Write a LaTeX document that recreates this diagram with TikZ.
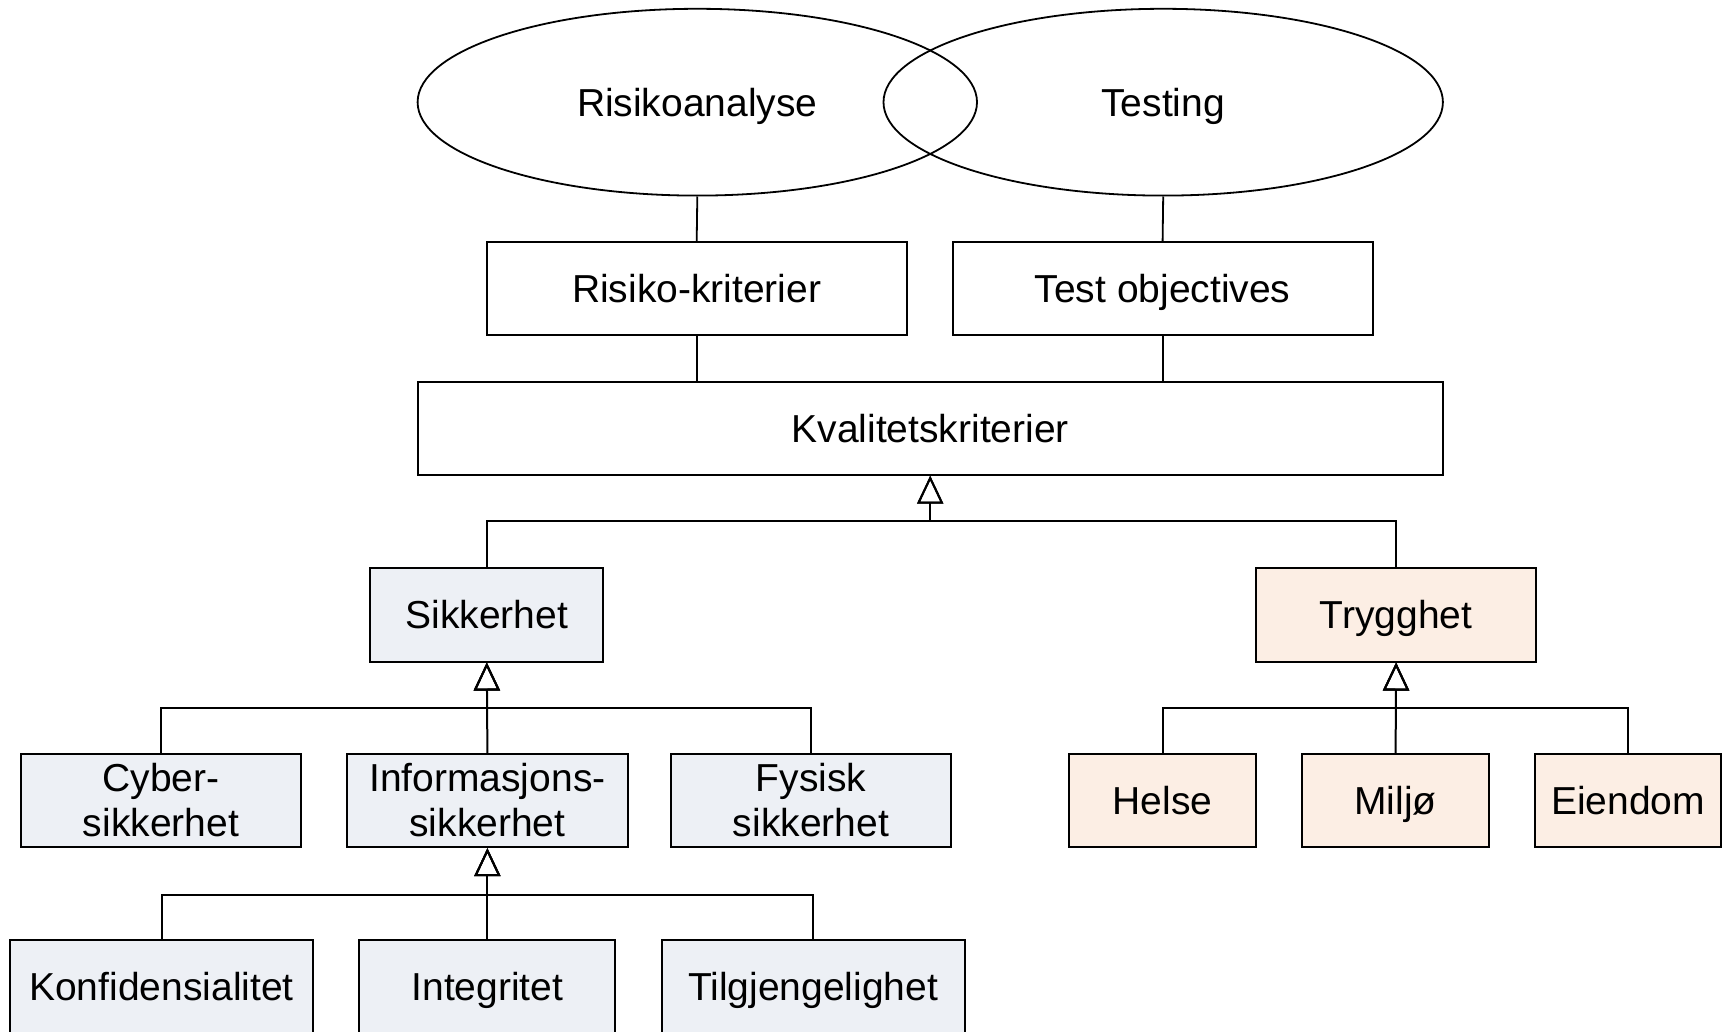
\documentclass[tikz,border=0pt]{standalone}
\usepackage{fontspec}
\setmainfont{Liberation Sans}
\usetikzlibrary{arrows.meta,shapes.geometric}
\definecolor{secfill}{RGB}{237,240,245}
\definecolor{safefill}{RGB}{252,238,228}
\begin{document}
\begin{tikzpicture}[x=0.5pt,y=-0.5pt,
  every node/.style={font=\fontsize{19.5pt}{22.5pt}\selectfont, align=center, inner sep=0pt},
  capline/.style={text height=14pt, text depth=0pt},
  oval/.style={draw, line width=0.9pt, ellipse, minimum width=279.7pt, minimum height=93.4pt},
  plainbox/.style={draw, line width=1pt, fill=white, minimum height=46.7pt},
  secbox/.style={plainbox, fill=secfill},
  safebox/.style={plainbox, fill=safefill},
  link/.style={line width=0.9pt},
  gen/.style={line width=1pt, -{Triangle[open, length=14pt, width=13pt, line width=1pt]}}
]
\useasboundingbox (0,0) rectangle (1723,1032);
\clip (0,0) rectangle (1723,1032);

% overlapping ellipses
\node[oval] (risk) at (697.3,102.2) {};
\node[oval] (test) at (1163.2,102.2) {};
\node[capline] at (risk.center) {Risikoanalyse};
\node[capline] at (test.center) {Testing};

% criteria boxes
\node[plainbox, capline, minimum width=209.9pt] (rkrit) at (696.7,288.5) {Risiko-kriterier};
\node[plainbox, capline, minimum width=209.9pt] (tobj) at (1162.6,288.5) {Test objectives};
\node[plainbox, capline, minimum width=512.7pt, minimum height=46.2pt] (kval) at (930.2,428.5) {Kvalitetskriterier};

\draw[link] (risk.south) -- (rkrit.north);
\draw[link] (test.south) -- (tobj.north);
\draw[link] (rkrit.south) -- (rkrit.south |- kval.north);
\draw[link] (tobj.south) -- (tobj.south |- kval.north);

% second level
\node[secbox, capline, minimum width=116.5pt] (sikk) at (486.8,614.8) {Sikkerhet};
\node[safebox, capline, minimum width=140.2pt] (tryg) at (1396.1,614.8) {Trygghet};

% third level
\node[secbox, minimum width=140.1pt] (cyber) at (161,800.5) {Cyber-\\sikkerhet};
\node[secbox, minimum width=140.1pt] (info) at (487.4,800.5) {Informasjons-\\sikkerhet};
\node[secbox, minimum width=140.1pt] (fys) at (811,800.5) {Fysisk\\sikkerhet};
\node[safebox, capline, minimum width=93.4pt] (helse) at (1162.6,800.5) {Helse};
\node[safebox, capline, minimum width=93.4pt] (miljo) at (1395.6,800.5) {Miljø};
\node[safebox, capline, minimum width=93.4pt] (eiend) at (1628,800.5) {Eiendom};

% fourth level (runs past the lower edge)
\node[secbox, minimum width=151.7pt, minimum height=52pt] (konf) at (161.5,991.6) {};
\node[secbox, minimum width=128pt, minimum height=52pt] (integ) at (487.4,991.6) {};
\node[secbox, minimum width=151.7pt, minimum height=52pt] (tilg) at (813.2,991.6) {};
\node[capline] at (161.5,986.3) {Konfidensialitet};
\node[capline] at (487.4,986.3) {Integritet};
\node[capline] at (813.2,986.3) {Tilgjengelighet};

% generalisation connectors
\coordinate (busA) at (0,520.9);
\coordinate (busB) at (0,707.7);
\coordinate (busC) at (0,894.5);

\draw[gen] (sikk.north) |- (busA -| kval.south) -- (kval.south);
\draw[gen] (tryg.north) |- (busA -| kval.south) -- (kval.south);

\draw[gen] (cyber.north) |- (busB -| sikk.south) -- (sikk.south);
\draw[gen] (fys.north) |- (busB -| sikk.south) -- (sikk.south);
\draw[gen] (info.north) -- (sikk.south);

\draw[gen] (helse.north) |- (busB -| tryg.south) -- (tryg.south);
\draw[gen] (eiend.north) |- (busB -| tryg.south) -- (tryg.south);
\draw[gen] (miljo.north) -- (tryg.south);

\draw[gen] (konf.north) |- (busC -| info.south) -- (info.south);
\draw[gen] (tilg.north) |- (busC -| info.south) -- (info.south);
\draw[gen] (integ.north) -- (info.south);
\end{tikzpicture}
\end{document}
